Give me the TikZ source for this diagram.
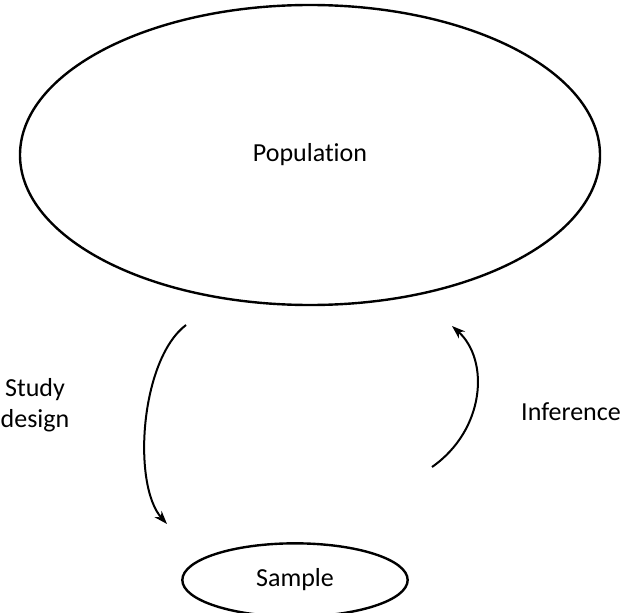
\documentclass[tikz,border=0pt]{standalone}
\usepackage{fontspec}
\setmainfont{Carlito}[Ligatures=NoCommon]
\usetikzlibrary{shapes.geometric,arrows.meta}

\begin{document}
\begin{tikzpicture}[x=0.75pt,y=0.75pt,yscale=-1,xscale=1,
  blob/.style={draw,ellipse,line width=1.8pt,inner sep=0pt,font=\fontsize{19.5}{23}\selectfont},
  flow/.style={line width=1.5pt,-{Stealth[length=10pt,width=7pt]}},
  lbl/.style={font=\fontsize{19.5}{23}\selectfont,align=center}]
\useasboundingbox (0,0) rectangle (624,613);
%Shape: Ellipse [id:pop] 
\node[blob,minimum width=435pt,minimum height=225pt] (pop) at (310,155) {Population};
%Shape: Ellipse [id:samp] 
\node[blob,minimum width=169pt,minimum height=55pt] (samp) at (295,580) {Sample};
% arrow ends
\coordinate (sd-a) at (186,325);
\coordinate (sd-b) at (167,524);
\coordinate (inf-a) at (432,467);
\coordinate (inf-b) at (452,326);
%Curve Lines [id:sd] 
\draw[flow] (sd-a) .. controls (140,360) and (132,485) .. (sd-b);
%Curve Lines [id:inf] 
\draw[flow] (inf-a) .. controls (485,430) and (490,360) .. (inf-b);
% Text Node
\node[lbl] (sd-lbl) at (35,405) {Study\\design};
% Text Node
\node[lbl] (inf-lbl) at (571,412) {Inference};
\end{tikzpicture}
\end{document}
